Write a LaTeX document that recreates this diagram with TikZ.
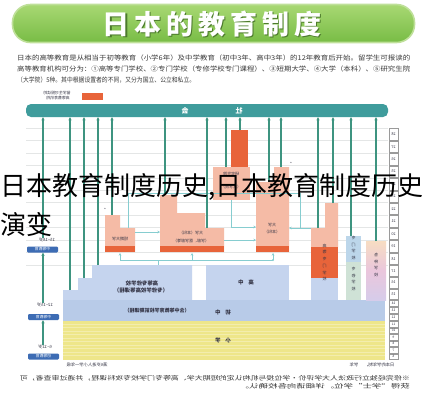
\documentclass[tikz,border=0pt]{standalone}
\usepackage{fontspec}
\usepackage{graphicx}
\setmainfont{Noto Sans CJK SC}
\newfontfamily\titlefont[LetterSpace=18]{Noto Sans CJK SC}
\usetikzlibrary{arrows.meta}
\newcommand{\fsz}[1]{\fontsize{#1}{#1}\selectfont}
\newcommand{\mr}[1]{\reflectbox{#1}}
\definecolor{cbar}{HTML}{3F9C9C}
\definecolor{cgreen}{HTML}{3E9480}
\definecolor{cpink}{HTML}{F5BBA6}
\definecolor{corange}{HTML}{E8643A}
\definecolor{cblue}{HTML}{C5D4EE}
\definecolor{cblueb}{HTML}{B8CBE8}
\definecolor{cyellow}{HTML}{EEE68A}
\definecolor{clt}{HTML}{86CDD0}
\definecolor{cgrid}{HTML}{E4E6E6}
\definecolor{clabel}{HTML}{3D6CB4}
\definecolor{cdark}{HTML}{333344}
\definecolor{cpara}{HTML}{3A3A3A}
\definecolor{cbanner}{HTML}{78BC45}
\definecolor{cbannertop}{HTML}{A8D873}
\definecolor{crim}{HTML}{BFE09A}
\definecolor{cshadow}{HTML}{4C7A2C}
\definecolor{cgray}{HTML}{9A9A9A}
\definecolor{ccolA}{HTML}{BCD6EA}
\definecolor{ccolB}{HTML}{CFE2D6}
\definecolor{cpeach}{HTML}{F7DDC2}
\definecolor{cmauve}{HTML}{EAC6DC}
\definecolor{clav}{HTML}{D6CCEA}
\begin{document}
\begin{tikzpicture}[x=1pt,y=-1pt,
  garrow/.style={draw=cgreen, line width=1.1pt, -{Stealth[length=3.2pt,width=3.2pt]}},
  ltline/.style={draw=clt, line width=0.7pt},
  ltarrow/.style={ltline, -{Stealth[length=2.6pt,width=2.6pt]}},
  dtext/.style={text=cdark, inner sep=0, font=\fsz{4.3}},
  btext/.style={text=cdark, inner sep=0, font=\fsz{5.4}\bfseries},
  lbl/.style={fill=clabel, rounded corners=1.2pt, minimum width=31pt, minimum height=6pt, inner sep=0, text=white, font=\fsz{3.8}},
  agecell/.style={draw=cgray, line width=0.35pt, fill=white, minimum width=9pt, inner sep=0, font=\fsz{3.8}, text=cdark},
  para/.style={anchor=west, inner sep=0, text=cpara, font=\fsz{6.6}}]
\useasboundingbox (0,0) rectangle (422,400);
\fill[white] (0,0) rectangle (422,400);

% ---------- banner ----------
\node[name=banner, draw=crim, line width=1.6pt, top color=cbannertop, bottom color=cbanner,
  rounded corners=18pt, minimum width=402pt, minimum height=38pt, inner sep=0] at (213.5,23.5) {};
\node[name=titleshadow, text=cshadow, inner sep=0, font=\titlefont\bfseries\fsz{27}] at (213.2,25.2) {日本的教育制度};
\node[name=title, text=white, inner sep=0, font=\titlefont\bfseries\fsz{27}] at (212,24) {日本的教育制度};

% ---------- paragraph ----------
\node[para] (para1) at (17,58) {\resizebox{393pt}{\height}{日本的高等教育是从相当于初等教育（小学6年）及中学教育（初中3年、高中3年）的12年教育后开始。留学生可报读的}};
\node[para] (para2) at (17,68.5) {\resizebox{393pt}{\height}{高等教育机构可分为：①高等专门学校、②专门学校（专修学校专门课程）、③短期大学、④大学（本科）、⑤研究生院}};
\node[para] (para3) at (17,80) {\resizebox{178pt}{\height}{（大学院）5种。其中根据设置者的不同，又分为国立、公立和私立。}};

% ---------- legend ----------
\node[dtext, font=\fsz{3.9}] (leg1) at (57,93.5) {\mr{留学生可报读的}};
\node[dtext, font=\fsz{3.9}] (leg2) at (58,98) {\mr{高等教育机构}};
\node[fill=corange, minimum width=21pt, minimum height=7pt, inner sep=0] (legbox) at (92.5,96.5) {};

% ---------- grid lines ----------
\foreach \k in {0,...,11}{
  \draw[cgrid, line width=0.5pt] (26,{128+\k*12.45}) -- (388,{128+\k*12.45});
}

% ---------- bar ----------
\node[fill=cbar, rounded corners=5pt, minimum width=362pt, minimum height=13pt, inner sep=0] (bar) at (207,110.5) {};
\node[text=white, inner sep=0, font=\fsz{7}\bfseries] (barA) at (185,110.5) {\mr{会}};
\node[text=white, inner sep=0, font=\fsz{7}\bfseries] (barB) at (239,110.5) {\mr{社}};

% ---------- bands ----------
\fill[cblue] (63,300) -- (63,290) -- (78,290) -- (78,278) -- (92,278) -- (92,265) -- (192,265) -- (192,300) -- cycle;
\node[btext] (hs1) at (142,283) {\mr{高等专修学校}};
\node[btext] (hs2) at (141,290.5) {\mr{（专修学校高等课程）}};
\fill[cblue] (206,265) rectangle (289,300);
\node[btext] (hsb) at (246,282) {\mr{高\hspace{5pt}中}};
\fill[cblueb] (63,300) rectangle (385,321);
\node[btext] (jh1) at (223,312) {\mr{初\hspace{5pt}中}};
\node[btext, font=\fsz{5}\bfseries] (jh2) at (157,311) {\mr{（含中等教育学校前期课程）}};
\fill[cyellow] (63,321) rectangle (385,360);
\foreach \yy in {324,327.5,...,358}{
  \draw[white, opacity=0.3, line width=0.6pt] (63,\yy) -- (385,\yy);
}
\node[btext] (el) at (223,340) {\mr{小\hspace{5pt}学}};

% ---------- right columns ----------
\fill[cpink] (311,247) -- (311,228) -- (325,228) -- (325,203) -- (338,203) -- (338,247) -- cycle;
\fill[corange] (311,247) rectangle (338,278);
\fill[cblue] (311,278) rectangle (338,300);
\node[dtext, font=\fsz{4}] (kosen) at (324.5,262.5) {\mr{\shortstack{高\\等\\专\\门\\学\\校}}};
\fill[ccolA] (346,236) rectangle (361,262);
\fill[ccolB] (346,262) rectangle (361,300);
\node[dtext, font=\fsz{4}] (senmon1) at (353.5,248) {\mr{\shortstack{专\\门\\学\\校}}};
\node[dtext, font=\fsz{4}] (senmon2) at (353.5,279) {\mr{\shortstack{专\\修\\学\\校}}};
\shade[top color=cpeach, bottom color=clav, middle color=cmauve] (366,241) rectangle (386,300);
\node[dtext, font=\fsz{4}] (kakushu) at (376,265) {\mr{\shortstack{各\\种\\学\\校}}};

% ---------- pink blocks ----------
\fill[cpink] (105,252) -- (105,215) -- (120,215) -- (120,228) -- (135,228) -- (135,252) -- cycle;
\fill[corange] (105,246) rectangle (135,252);
\node[dtext, font=\fsz{4}] (tandai) at (120,239) {\mr{短期大学}};
\fill[cpink] (160,252) -- (160,195) -- (177,195) -- (177,213) -- (205,213) -- (205,228) -- (224,228) -- (224,252) -- cycle;
\fill[corange] (160,246) rectangle (224,252);
\node[dtext, font=\fsz{4}] (univ1) at (191,233) {\mr{大学（本科）}};
\node[dtext, font=\fsz{4}] (univ2) at (191,241) {\mr{（学部、医学部等）}};
\fill[cpink] (256,252) -- (256,182) -- (274,182) -- (274,167) -- (289,167) -- (289,252) -- cycle;
\fill[corange] (256,246) rectangle (289,252);
\node[dtext, font=\fsz{4}] (univ3) at (272,225) {\mr{大学}};
\node[dtext, font=\fsz{4}] (univ4) at (272,232) {\mr{（本科）}};
\fill[cpink] (213,167) rectangle (250,200);
\fill[corange] (231,130) rectangle (248,167);
\node[dtext, font=\fsz{4}] (grad1) at (231,174) {\mr{研究生院}};
\node[dtext, font=\fsz{4}] (grad2) at (231,187) {\mr{（大学院）}};
\node[dtext, font=\fsz{4}] (star1) at (105,210) {*};
\node[dtext, font=\fsz{4}] (star2) at (291,164) {*};

% ---------- light connectors ----------
\coordinate (c1) at (128,228);
\coordinate (c2) at (300,228);
\draw[ltline] (c1) -- (128,193) -- (300,193) -- (c2);
\draw[ltarrow] (135,232) -- (160,232);
\draw[ltarrow] (231,200) |- (256,227);
\draw[ltarrow] (224,240) -- (256,240);
\draw[ltarrow] (311,228) -- (289,228);
\coordinate (hl) at (120,260);
\coordinate (hr) at (273,260);
\draw[ltline] (hl) -- (hr);
\draw[ltline] (158,260) -- (158,265);
\draw[ltarrow] (hl) -- (120,253);
\draw[ltarrow] (192,260) -- (192,253);
\draw[ltarrow] (hr) -- (273,253);
\fill[clt] (hr) circle (1.1pt);

% ---------- age column ----------
\foreach \a in {18,...,28}{
  \node[agecell, minimum height=11.45pt] (age\a) at (393.5,{128+(28-\a)*12.45+6.22}) {\mr{\a}};
}
\foreach \a in {15,16,17}{
  \node[agecell, minimum height=10.67pt] (age\a) at (393.5,{265+(17-\a)*11.67+5.83}) {\mr{\a}};
}
\foreach \a in {12,13,14}{
  \node[agecell, minimum height=6pt, font=\fsz{3.4}] (age\a) at (393.5,{300+(14-\a)*7+3.5}) {\mr{\a}};
}
\foreach \a in {6,...,11}{
  \node[agecell, minimum height=5.5pt, font=\fsz{3.2}] (age\a) at (393.5,{321+(11-\a)*6.5+3.25}) {\mr{\a}};
}

% ---------- left labels ----------
\node[dtext, font=\fsz{4.3}] (t18) at (47,240) {\mr{15\textasciitilde 18岁}};
\node[lbl] (lb18) at (42.5,249.5) {\mr{中等教育}};
\node[dtext, font=\fsz{4.3}] (t15) at (45,305) {\mr{12\textasciitilde 15岁}};
\node[lbl] (lb15) at (43.5,317) {\mr{中等教育}};
\node[dtext, font=\fsz{4.3}] (t12) at (45,347) {\mr{6\textasciitilde 12岁}};
\node[lbl] (lb12) at (43.5,356.5) {\mr{初等教育}};

% ---------- green arrows to bar ----------
\draw[garrow] (t18.north -| 43,0) -- (bar.south -| 43,0);
\draw[garrow] (t15.north -| 43,0) -- (lb18.south -| 43,0);
\draw[garrow] (t12.north -| 43,0) -- (lb15.south -| 43,0);
\foreach \xx/\yy in {70/290, 84/278, 98/265, 112/215, 165/195, 207/228, 226/167, 240/130, 269/182, 281/167, 318/228, 333/203, 351/236, 376/241}{
  \coordinate (s\xx) at (\xx,\yy);
  \draw[garrow] (s\xx) -- (s\xx |- bar.south);
}

% ---------- bottom texts ----------
\node[dtext, font=\fsz{4.3}] (age6note) at (87,365) {\mr{满6岁进入小学一年级}};
\node[dtext, font=\fsz{4.3}] (yearnote) at (372,365) {\mr{日本的学年制。\hspace{6pt}学年}};
\node[anchor=east, inner sep=0, text=cpara, font=\fsz{6}] (foot1) at (410,378) {\mr{\resizebox{390pt}{\height}{※修完经独立行政法人大学评价・学位授与机构认定的短期大学、高等专门学校专攻科课程，并通过审查者，可}}};
\node[anchor=east, inner sep=0, text=cpara, font=\fsz{6}] (foot2) at (410,386) {\mr{\resizebox{170pt}{\height}{获得“学士”学位。详细请向各校确认。}}};

% ---------- overlay ----------
\node[anchor=west, inner sep=0, text=black, font=\fsz{26}] (ov1) at (0,187) {日本教育制度历史,日本教育制度历史};
\node[anchor=west, inner sep=0, text=black, font=\fsz{26}] (ov2) at (0,224.5) {演变};
\end{tikzpicture}
\end{document}
